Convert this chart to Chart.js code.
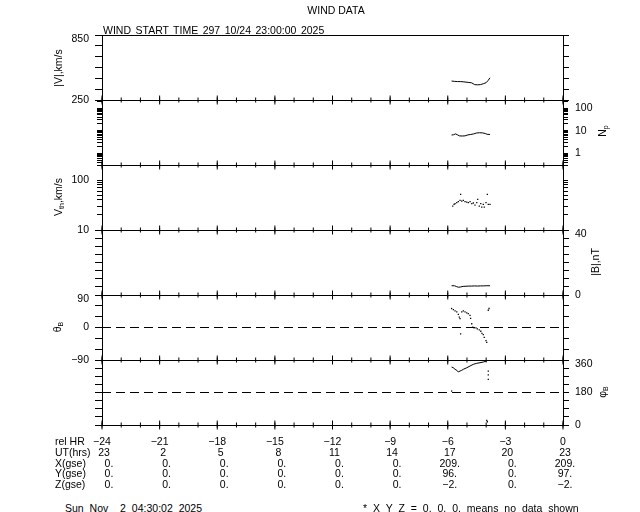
<!DOCTYPE html>
<html>
<head>
<meta charset="utf-8">
<script src="https://cdn.jsdelivr.net/npm/chart.js@4.4.1/dist/chart.umd.min.js"></script>
<style>
body { margin: 0; background: #fff; }
#page { position: relative; width: 640px; height: 512px; overflow: hidden;
  font-family: "Liberation Sans", sans-serif; font-size: 10.5px; color: #000; }
#page canvas { position: absolute; left: 0; }
.t { position: absolute; white-space: pre; line-height: 1; transform: translateY(-50%); }
.c { transform: translate(-50%, -50%); }
.w { word-spacing: 3px; }
.h { word-spacing: 1.6px; }
.rot { position: absolute; white-space: pre; line-height: 1; transform: translate(-50%, -50%) rotate(-90deg); }
sub { font-size: 7px; vertical-align: -2px; }
</style>
</head>
<body>
<div id="page"></div>
<script>
// time axis (hours relative to end)
const relHr = [-24, -21, -18, -15, -12, -9, -6, -3, 0];
const hourTicks = [-24, -23, -22, -21, -20, -19, -18, -17, -16, -15, -14, -13, -12,
  -11, -10, -9, -8, -7, -6, -5, -4, -3, -2, -1, 0];
const utHrs = ["23", " 2", " 5", " 8", "11", "14", "17", "20", "23"];
const xGse = ["0.", "0.", "0.", "0.", "0.", "0.", "209.", "0.", "209."];
const yGse = ["0.", "0.", "0.", "0.", "0.", "0.", "96.", "0.", "97."];
const zGse = ["0.", "0.", "0.", "0.", "0.", "0.", "\u22122.", "0.", "\u22122."];

// |V| km/s
const vTime = [-5.80, -5.65, -5.50, -5.35, -5.20, -5.05, -4.90, -4.75, -4.60, -4.45, -4.30, -4.15, -4.00, -3.90, -3.80];
const vSpeed = [425, 422, 420, 420, 418, 415, 412, 408, 392, 390, 392, 400, 410, 430, 455];

// Np
const npTime = [-5.80, -5.70, -5.60, -5.50, -5.40, -5.25, -5.10, -4.95, -4.80, -4.65, -4.50, -4.35, -4.20, -4.05, -3.95, -3.80];
const npVal = [6.4, 6.6, 7.2, 6.6, 5.9, 5.8, 5.9, 6.5, 6.8, 7.2, 7.9, 8.1, 8.0, 7.5, 6.9, 6.8];

// Vth km/s
const vthTime = [-5.74, -5.67, -5.62, -5.53, -5.45, -5.36, -5.33, -5.27, -5.19, -5.10, -5.01, -4.93, -4.84, -4.75,
  -4.67, -4.58, -4.49, -4.44, -4.36, -4.28, -4.23, -4.15, -4.10, -4.01, -3.94, -3.89, -3.80];
const vthVal = [30.2, 32.7, 33.6, 35.2, 36.9, 39.3, 51.7, 38.0, 39.3, 37.0, 36.3, 35.2, 36.9, 33.6,
  34.7, 31.6, 35.2, 41.1, 30.2, 33.6, 28.8, 32.7, 28.8, 35.2, 51.7, 32.7, 32.7];

// |B| nT
const bTime = [-5.80, -5.65, -5.55, -5.45, -5.35, -5.20, -5.05, -4.90, -4.75, -4.60, -4.45, -4.30, -4.15, -4.00, -3.80];
const bVal = [5.7, 5.7, 5.2, 4.8, 4.9, 5.3, 5.4, 5.5, 5.5, 5.6, 5.5, 5.6, 5.6, 5.7, 5.7];

// theta_B deg
const thTime = [-5.80, -5.71, -5.62, -5.53, -5.45, -5.40, -5.36, -5.33, -5.27, -5.19, -5.10, -5.01, -4.93, -4.84,
  -4.81, -4.75, -4.70, -4.63, -4.53, -4.46, -4.36, -4.28, -4.22, -4.15, -4.10, -4.01, -3.97, -3.89, -3.85];
const thVal = [52.6, 49.2, 45.8, 43.0, 36.6, 29.0, 24.5, -17.7, 43.0, 45.8, 43.0, 40.8, 38.5, 33.8,
  25.3, 10.4, 0.8, -0.8, -0.8, -3.7, -6.5, -10.4, -16.0, -19.7, -27.3, -36.6, -41.4, 47.8, 52.6];

// phi_B deg: main trace and loose dots
const phTime = [-5.80, -5.71, -5.62, -5.53, -5.45, -5.36, -5.27, -5.19, -5.01, -4.84, -4.67, -4.49, -4.32, -4.15, -3.97];
const phVal = [321, 317, 308.5, 303, 293.5, 299, 303, 308.5, 317, 326.8, 336, 341.7, 345, 349, 354.5];
const phDotTime = [-3.89, -3.89, -3.89, -5.80, -3.97, -3.94];
const phDotVal = [299, 277, 253, 188, 26, 18];

// axis ticks and labels
const vTicks = [250, 350, 450, 550, 650, 750, 850];
const vLabels = [250, 850];
const npTicks = [0.4, 0.5, 0.6, 0.7, 0.8, 0.9, 1, 2, 3, 4, 5, 6, 7, 8, 9, 10, 20, 30, 40, 50, 60, 70, 80, 90, 100, 200];
const npLabels = [1, 10, 100];
const vthTicks = [10, 20, 30, 40, 50, 60, 70, 80, 90, 100, 200];
const vthLabels = [10, 100];
const bTicks = [0, 5, 10, 15, 20, 25, 30, 35, 40];
const bLabels = [0, 40];
const thTicks = [-90, -60, -30, 0, 30, 60, 90];
const thLabels = [-90, 0, 90];
const phTicks = [0, 45, 90, 135, 180, 225, 270, 315, 360];
const phLabels = [0, 180, 360];

const page = document.getElementById("page");
const tops = [35, 100, 165, 230, 295, 360, 425];
const PAD = 24, LEFT = 102, RIGHT = 563;

const pts = (xs, ys) => xs.map((x, i) => ({ x: x, y: ys[i] }));
const fmt = v => String(v).replace("-", "\u2212");

// zero-height time axes, used only for the top and bottom panel edges
function edgeAxis(pos) {
  return {
    type: "linear", min: -24, max: 0, position: pos,
    afterFit: s => { s.height = 0; },
    grid: { display: false },
    border: { display: true, color: "#000", width: 1 },
    ticks: { display: false }
  };
}

function axis(cfg, side, ticks, labels, len) {
  const left = side === "left";
  return {
    type: cfg.type, position: side, min: cfg.min, max: cfg.max,
    afterFit: s => { s.width = left ? LEFT : 640 - RIGHT; },
    afterBuildTicks: s => { s.ticks = ticks.map(v => ({ value: v })); },
    grid: { drawOnChartArea: false, drawTicks: true, tickLength: len, color: "#000", tickColor: "#000" },
    border: { display: true, color: "#000", width: 1 },
    ticks: {
      autoSkip: false, padding: (left ? 13 : 12) - len, color: "#000",
      font: { family: "Liberation Sans", size: 10.5, lineHeight: 0.8 },
      // the top label sits a little below its tick, as in the original
      callback: v => labels.includes(v) ? (v === cfg.max ? ["", fmt(v)] : fmt(v)) : ""
    }
  };
}

// hour tick crosses sitting on a panel edge (short vertical line markers)
const crossSet = (hours, edge, r) => ({
  data: hours.map(h => ({ x: h, y: edge })), showLine: false, clip: false,
  pointStyle: "line", pointRotation: 90, pointRadius: r, pointBorderColor: "#000", pointBorderWidth: 1,
  xAxisID: "x", yAxisID: "y"
});

function panel(i, cfg) {
  const top = tops[i], h = tops[i + 1] - tops[i];
  const cv = document.createElement("canvas");
  cv.width = 640; cv.height = h + 2 * PAD;
  cv.style.top = (top - PAD) + "px";
  page.appendChild(cv);
  const log = cfg.type === "logarithmic";
  const sets = cfg.datasets.slice();
  if (i > 0) sets.push(crossSet(hourTicks, cfg.max, 2.5), crossSet(relHr, cfg.max, 4.5));
  if (i === tops.length - 2) sets.push(crossSet(hourTicks, cfg.min, 2.5), crossSet(relHr, cfg.min, 4.5));
  return new Chart(cv, {
    type: "line",
    data: { datasets: sets },
    options: {
      responsive: false, animation: false,
      layout: { padding: { top: PAD, bottom: PAD, left: 0, right: 0 } },
      plugins: { legend: { display: false }, tooltip: { enabled: false } },
      scales: {
        x: edgeAxis("bottom"),
        xt: edgeAxis("top"),
        y: axis(cfg, "left", cfg.ticks, cfg.left, log ? 5 : 7),
        y2: axis(cfg, "right", cfg.ticks, cfg.right, log ? 5 : 6)
      }
    }
  });
}

const lineSet = (xs, ys) => ({ data: pts(xs, ys), borderColor: "#000", borderWidth: 1, pointRadius: 0,
  xAxisID: "x", yAxisID: "y" });
const dotSet = (xs, ys) => ({ data: pts(xs, ys), showLine: false, pointStyle: "rect", pointRadius: 0.9,
  pointBackgroundColor: "#000", pointBorderWidth: 0, xAxisID: "x", yAxisID: "y" });
const dashSet = v => ({ data: [{ x: -24, y: v }, { x: 0, y: v }], borderColor: "#000", borderWidth: 1,
  borderDash: [9, 5], pointRadius: 0, xAxisID: "x", yAxisID: "y" });

panel(0, { type: "linear", min: 250, max: 850, ticks: vTicks, left: vLabels, right: [],
  datasets: [lineSet(vTime, vSpeed)] });
panel(1, { type: "logarithmic", min: 0.33, max: 230, ticks: npTicks, left: [], right: npLabels,
  datasets: [lineSet(npTime, npVal)] });
panel(2, { type: "logarithmic", min: 10, max: 200, ticks: vthTicks, left: vthLabels, right: [],
  datasets: [dotSet(vthTime, vthVal)] });
panel(3, { type: "linear", min: 0, max: 40, ticks: bTicks, left: [], right: bLabels,
  datasets: [lineSet(bTime, bVal)] });
panel(4, { type: "linear", min: -90, max: 90, ticks: thTicks, left: thLabels, right: [],
  datasets: [dashSet(0), dotSet(thTime, thVal)] });
const last = panel(5, { type: "linear", min: 0, max: 360, ticks: phTicks, left: [], right: phLabels,
  datasets: [dashSet(180), lineSet(phTime, phVal), dotSet(phDotTime, phDotVal)] });

function text(str, x, y, cls) {
  const d = document.createElement("div");
  d.className = cls || "t";
  d.innerHTML = str;
  d.style.left = x + "px";
  d.style.top = y + "px";
  page.appendChild(d);
  return d;
}

text("WIND DATA", 336, 10, "t c");
text("WIND START TIME 297 10/24 23:00:00 2025", 103, 30, "t h");

// axis titles
text("|V|,km/s", 58, 68, "rot");
text("N<sub>p</sub>", 603, 131, "rot");
text("V<sub>th</sub>,km/s", 59, 197, "rot");
text("|B|,nT", 595, 262, "rot");
text("\u03b8<sub>B</sub>", 58, 327, "rot");
text("\u03c6<sub>B</sub>", 603, 392, "rot");

// position table under the panels
const xs = last.scales.x;
const rows = [["rel HR", relHr.map(fmt)], ["UT(hrs)", utHrs], ["X(gse)", xGse],
  ["Y(gse)", yGse], ["Z(gse)", zGse]];
const rowY = [441, 452, 463, 473, 484];
rows.forEach((r, k) => {
  text(r[0], 55, rowY[k]);
  r[1].forEach((s, j) => {
    const px = xs.getPixelForValue(relHr[j]);
    const off = k === 0 ? 0 : k === 1 ? 2 : s.length <= 2 ? 7 : 2;
    text(s, px + off, rowY[k], "t c");
  });
});

text("Sun Nov  2 04:30:02 2025", 65, 508, "t w");
text("* X Y Z = 0. 0. 0. means no data shown", 363, 508, "t w");
</script>
</body>
</html>
